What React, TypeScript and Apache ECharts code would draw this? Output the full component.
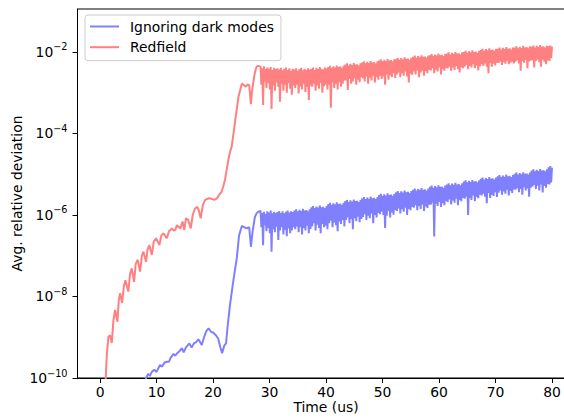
import React, { useEffect, useRef } from "react";
import * as echarts from "echarts";

const FONT = "DejaVu Sans";

// x-axis ticks (Time, us) and y-axis ticks (log scale)
const xTicks = [0, 10, 20, 30, 40, 50, 60, 70, 80];
const yTicks = [1e-10, 1e-8, 1e-6, 1e-4, 1e-2];

const seriesNames = ["Ignoring dark modes", "Redfield"];

// Values are stored as log10(avg. relative deviation).
// Redfield: smooth early part
const redEarlyTime = [0.85, 1.0, 1.2, 1.47, 1.75, 2.07, 2.35, 2.65, 3.07, 3.3, 3.54, 3.9, 4.2, 4.48, 5.0, 5.3, 5.6, 6.02, 6.3, 6.67, 7.08, 7.4, 7.67, 8.14, 8.4, 8.73, 9.15, 9.5, 9.91, 10.5, 10.85, 11.2, 11.8, 12.2, 12.7, 13.0, 13.3, 13.6, 14.2, 14.6, 14.9, 15.2, 15.6, 16.05, 16.4, 16.8, 17.2, 17.5, 17.8, 18.2, 18.6, 19.2, 19.7, 20.2, 20.7, 21.1, 21.5, 21.8, 22.1, 22.4, 22.7, 23.0, 23.3, 23.5, 24.0, 24.5, 25.1, 25.5, 25.8, 26.1, 26.4, 26.7, 26.9, 27.1, 27.4, 27.7, 28.0];
const redEarlyLog = [-10.5, -10.0, -9.4, -8.99, -8.95, -9.14, -8.6, -8.33, -8.62, -8.1, -7.92, -8.16, -7.75, -7.6, -7.88, -7.45, -7.31, -7.64, -7.2, -7.1, -7.39, -7.0, -6.9, -7.15, -6.85, -6.74, -6.98, -6.65, -6.57, -6.74, -6.5, -6.45, -6.57, -6.4, -6.33, -6.38, -6.37, -6.25, -6.33, -6.16, -6.37, -6.08, -6.12, -6.33, -6.0, -5.84, -5.8, -5.9, -6.08, -5.75, -5.63, -5.59, -5.6, -5.63, -5.59, -5.5, -5.43, -5.3, -5.14, -4.9, -4.65, -4.45, -4.32, -4.12, -3.6, -3.1, -2.77, -2.82, -2.85, -2.8, -2.81, -3.28, -2.95, -2.77, -2.5, -2.36, -2.34];

// Ignoring dark modes: smooth early part
const blueEarlyTime = [7.9, 8.14, 8.5, 8.8, 9.15, 9.56, 10.0, 10.6, 11.0, 11.4, 11.8, 12.2, 12.5, 13.0, 13.3, 13.6, 14.0, 14.5, 14.8, 15.2, 15.8, 16.2, 16.6, 17.0, 17.4, 18.0, 18.4, 18.8, 19.2, 19.6, 20.05, 20.5, 20.9, 21.3, 21.6, 22.0, 22.3, 22.6, 23.0, 23.6, 24.2, 24.6, 25.1, 25.5, 26.0, 26.4, 26.7, 27.0, 27.4, 27.7, 28.0];
const blueEarlyLog = [-10.3, -10.0, -9.9, -9.95, -9.85, -9.8, -9.85, -9.68, -9.72, -9.62, -9.6, -9.6, -9.5, -9.41, -9.45, -9.4, -9.35, -9.27, -9.37, -9.25, -9.15, -9.25, -9.15, -9.12, -9.05, -9.19, -9.0, -8.85, -8.78, -8.86, -8.89, -8.95, -9.03, -9.25, -9.39, -9.2, -9.15, -8.7, -8.2, -7.6, -7.06, -6.5, -6.27, -6.3, -6.33, -6.3, -6.78, -6.4, -6.05, -5.96, -5.92];

// Oscillating part: a peak every 0.3 us from 28.4 us, a trough 0.15 us after each peak
const bandStart = 28.4;
const bandStep = 0.3;
const redPeakLog = [
  -2.36, -2.40, -2.35, -2.42, -2.38, -2.41, -2.37, -2.44, -2.39, -2.42,
  -2.40, -2.43, -2.39, -2.45, -2.41, -2.38, -2.44, -2.40, -2.46, -2.41,
  -2.43, -2.40, -2.46, -2.42, -2.39, -2.45, -2.41, -2.44, -2.40, -2.43,
  -2.41, -2.38, -2.44, -2.39, -2.42, -2.37, -2.41, -2.43, -2.38, -2.40,
  -2.37, -2.34, -2.39, -2.35, -2.38, -2.33, -2.37, -2.35, -2.39, -2.34,
  -2.31, -2.28, -2.33, -2.29, -2.32, -2.27, -2.31, -2.30, -2.33, -2.28,
  -2.26, -2.23, -2.28, -2.24, -2.27, -2.22, -2.26, -2.25, -2.28, -2.23,
  -2.21, -2.18, -2.23, -2.19, -2.22, -2.17, -2.21, -2.20, -2.23, -2.18,
  -2.17, -2.14, -2.19, -2.15, -2.18, -2.13, -2.17, -2.16, -2.19, -2.14,
  -2.12, -2.09, -2.14, -2.10, -2.13, -2.08, -2.12, -2.11, -2.14, -2.09,
  -2.08, -2.05, -2.10, -2.06, -2.09, -2.04, -2.08, -2.07, -2.10, -2.05,
  -2.04, -2.01, -2.06, -2.02, -2.05, -2.00, -2.04, -2.03, -2.06, -2.01,
  -2.00, -1.97, -2.02, -1.98, -2.01, -1.96, -2.00, -1.99, -2.02, -1.97,
  -1.95, -1.92, -1.97, -1.93, -1.96, -1.91, -1.95, -1.94, -1.97, -1.92,
  -1.92, -1.89, -1.94, -1.90, -1.93, -1.88, -1.92, -1.91, -1.94, -1.89,
  -1.89, -1.86, -1.91, -1.87, -1.90, -1.85, -1.89, -1.88, -1.91, -1.86,
  -1.87, -1.84, -1.89, -1.85, -1.88, -1.83, -1.87, -1.86, -1.89, -1.85,
  -1.86, -1.84, -1.87,
];
const redTroughLog = [
  -2.80, -3.30, -2.72, -2.88, -2.76, -2.92, -3.40, -2.82, -2.95, -2.74,
  -2.85, -3.22, -2.78, -2.95, -2.80, -3.00, -2.76, -2.90, -3.05, -2.82,
  -2.88, -2.80, -3.02, -2.84, -2.92, -2.78, -2.98, -2.86, -3.18, -2.82,
  -2.85, -2.78, -2.95, -2.82, -2.90, -2.76, -3.00, -2.84, -2.80, -2.92,
  -2.80, -3.37, -2.75, -2.88, -2.78, -2.92, -2.74, -2.85, -2.78, -2.70,
  -2.70, -2.93, -2.66, -2.78, -2.72, -2.64, -2.80, -2.68, -2.74, -2.62,
  -2.65, -2.72, -2.60, -2.78, -2.63, -2.70, -2.58, -2.75, -2.62, -2.68,
  -2.58, -2.66, -2.60, -2.80, -2.55, -2.68, -2.57, -2.62, -2.52, -2.64,
  -2.55, -2.50, -2.62, -2.52, -2.58, -2.48, -2.60, -2.75, -2.53, -2.56,
  -2.48, -2.55, -2.45, -2.62, -2.50, -2.46, -2.58, -2.47, -2.52, -2.44,
  -2.45, -2.40, -2.52, -2.43, -2.48, -2.38, -2.55, -2.42, -2.46, -2.40,
  -2.40, -2.36, -2.46, -2.38, -2.44, -2.34, -2.42, -2.50, -2.37, -2.40,
  -2.36, -2.32, -2.42, -2.34, -2.38, -2.30, -2.40, -2.33, -2.45, -2.35,
  -2.30, -2.34, -2.28, -2.36, -2.52, -2.27, -2.36, -2.29, -2.33, -2.26,
  -2.27, -2.23, -2.32, -2.25, -2.29, -2.22, -2.30, -2.26, -2.24, -2.28,
  -2.24, -2.20, -2.28, -2.46, -2.22, -2.26, -2.19, -2.40, -2.23, -2.21,
  -2.20, -2.38, -2.22, -2.18, -2.25, -2.36, -2.19, -2.24, -2.30, -2.21,
  -2.22, -2.15,
];
const bluePeakLog = [
  -5.90, -5.95, -5.92, -5.97, -5.91, -5.94, -5.89, -5.96, -5.92, -5.95,
  -5.93, -5.90, -5.95, -5.91, -5.96, -5.92, -5.89, -5.94, -5.91, -5.93,
  -5.89, -5.86, -5.91, -5.87, -5.90, -5.85, -5.89, -5.88, -5.91, -5.86,
  -5.81, -5.78, -5.83, -5.79, -5.82, -5.77, -5.81, -5.80, -5.83, -5.78,
  -5.73, -5.70, -5.75, -5.71, -5.74, -5.69, -5.73, -5.72, -5.75, -5.70,
  -5.66, -5.63, -5.68, -5.64, -5.67, -5.62, -5.66, -5.65, -5.68, -5.63,
  -5.59, -5.56, -5.61, -5.57, -5.60, -5.55, -5.59, -5.58, -5.61, -5.56,
  -5.51, -5.48, -5.53, -5.49, -5.52, -5.47, -5.51, -5.50, -5.53, -5.48,
  -5.44, -5.41, -5.46, -5.42, -5.45, -5.40, -5.44, -5.43, -5.46, -5.41,
  -5.38, -5.35, -5.40, -5.36, -5.39, -5.34, -5.38, -5.37, -5.40, -5.35,
  -5.31, -5.28, -5.33, -5.29, -5.32, -5.27, -5.31, -5.30, -5.33, -5.28,
  -5.25, -5.22, -5.27, -5.23, -5.26, -5.21, -5.25, -5.24, -5.27, -5.22,
  -5.18, -5.15, -5.20, -5.16, -5.19, -5.14, -5.18, -5.17, -5.20, -5.15,
  -5.11, -5.08, -5.13, -5.09, -5.12, -5.07, -5.11, -5.10, -5.13, -5.08,
  -5.05, -5.02, -5.07, -5.03, -5.06, -5.01, -5.05, -5.04, -5.07, -5.02,
  -4.99, -4.96, -5.01, -4.97, -5.00, -4.95, -4.99, -4.98, -5.01, -4.96,
  -4.91, -4.88, -4.93, -4.89, -4.92, -4.87, -4.91, -4.90, -4.93, -4.88,
  -4.83, -4.80, -4.84,
];
const blueTroughLog = [
  -6.30, -6.74, -6.25, -6.40, -6.32, -6.45, -6.90, -6.35, -6.42, -6.28,
  -6.61, -6.38, -6.30, -6.48, -6.36, -6.52, -6.33, -6.45, -6.38, -6.30,
  -6.35, -6.28, -6.42, -6.30, -6.48, -6.32, -6.38, -6.26, -6.45, -6.34,
  -6.28, -6.20, -6.38, -6.24, -6.32, -6.45, -6.22, -6.30, -6.26, -6.35,
  -6.20, -6.14, -6.30, -6.18, -6.25, -6.40, -6.16, -6.22, -6.12, -6.28,
  -6.12, -6.06, -6.20, -6.10, -6.35, -6.08, -6.15, -6.04, -6.18, -6.10,
  -6.05, -5.98, -6.12, -6.02, -6.08, -5.96, -6.20, -6.00, -6.06, -5.95,
  -5.98, -5.92, -6.00, -6.32, -6.02, -5.90, -6.06, -5.94, -5.99, -5.88,
  -5.90, -5.84, -5.96, -5.86, -5.92, -5.82, -6.00, -5.85, -5.88, -5.80,
  -5.82, -5.76, -5.88, -5.78, -5.85, -5.74, -5.90, -5.79, -5.83, -5.75,
  -5.75, -5.70, -6.53, -5.72, -5.78, -5.68, -5.80, -5.71, -5.76, -5.66,
  -5.68, -5.62, -5.74, -5.64, -5.70, -5.60, -5.76, -5.63, -5.66, -5.58,
  -5.60, -5.55, -6.00, -5.58, -5.63, -5.52, -5.66, -5.56, -5.59, -5.50,
  -5.52, -5.48, -5.55, -5.71, -5.46, -5.58, -5.50, -5.53, -5.44, -5.56,
  -5.45, -5.40, -5.50, -5.42, -5.48, -5.38, -5.52, -5.41, -5.46, -5.37,
  -5.38, -5.34, -5.44, -5.36, -5.50, -5.32, -5.40, -5.35, -5.55, -5.33,
  -5.30, -5.26, -5.36, -5.28, -5.40, -5.25, -5.45, -5.29, -5.33, -5.24,
  -5.25, -5.20,
];

function buildSeries(earlyT: number[], earlyLog: number[], peaks: number[], troughs: number[]) {
  const pts: [number, number][] = [];
  earlyT.forEach((t, i) => pts.push([t, Math.pow(10, earlyLog[i])]));
  peaks.forEach((e, i) => {
    const t = bandStart + i * bandStep;
    pts.push([Math.round(t * 100) / 100, Math.pow(10, e)]);
    if (i < troughs.length) {
      pts.push([Math.round((t + bandStep / 2) * 100) / 100, Math.pow(10, troughs[i])]);
    }
  });
  return pts;
}

export default function App() {
  const ref = useRef<HTMLDivElement>(null);
  useEffect(() => {
    if (!ref.current) return;
    const chart = echarts.init(ref.current, undefined, { renderer: "svg" });
    const blue = buildSeries(blueEarlyTime, blueEarlyLog, bluePeakLog, blueTroughLog);
    const red = buildSeries(redEarlyTime, redEarlyLog, redPeakLog, redTroughLog);
    const txt = { fontFamily: FONT, fontSize: 13.9, color: "#000" };
    chart.setOption({
      animation: false,
      backgroundColor: "#ffffff",
      grid: {
        left: 77.5,
        top: 9,
        right: -10.6,
        bottom: 41,
        outerBoundsMode: "none",
        containLabel: false,
        show: true,
        borderColor: "#000",
        borderWidth: 1,
        backgroundColor: "transparent",
      },
      legend: {
        orient: "vertical",
        left: 85,
        top: 15,
        padding: [3.5, 7, 5.5, 5],
        icon: "rect",
        itemWidth: 29,
        itemHeight: 2,
        itemGap: 4.7,
        backgroundColor: "rgba(255,255,255,0.8)",
        borderColor: "#cccccc",
        borderWidth: 1,
        borderRadius: 3,
        textStyle: { ...txt, lineHeight: 16, padding: [0, 0, 0, 6] },
        data: seriesNames,
      },
      xAxis: {
        type: "value",
        min: -4,
        max: 84,
        name: "Time (us)",
        nameLocation: "middle",
        nameGap: 23,
        nameMoveOverlap: false,
        nameTextStyle: { ...txt, lineHeight: 12 },
        axisLine: { onZero: false, lineStyle: { color: "#000", width: 1 } },
        axisTick: { show: true, length: 5, customValues: xTicks, lineStyle: { color: "#000", width: 1 } },
        axisLabel: { ...txt, lineHeight: 12, margin: 8, customValues: xTicks },
        splitLine: { show: false },
      },
      yAxis: {
        type: "log",
        logBase: 10,
        min: 1e-10,
        max: 0.1135,
        name: "Avg. relative deviation",
        nameLocation: "middle",
        nameGap: 54,
        nameMoveOverlap: false,
        nameTextStyle: txt,
        axisLine: { onZero: false, lineStyle: { color: "#000", width: 1 } },
        axisTick: { show: true, length: 5, customValues: yTicks, lineStyle: { color: "#000", width: 1 } },
        axisLabel: {
          margin: 10,
          customValues: yTicks,
          formatter: (v: number) => {
            const e = Math.round(Math.log10(v));
            return "{b|10}{s|\u2212" + Math.abs(e) + "}";
          },
          rich: {
            b: { fontFamily: FONT, fontSize: 13.9, color: "#000", lineHeight: 20 },
            s: { fontFamily: FONT, fontSize: 9.7, color: "#000", lineHeight: 11, verticalAlign: "top" },
          },
        },
        splitLine: { show: false },
      },
      series: [
        {
          type: "line",
          name: seriesNames[0],
          data: blue,
          symbol: "none",
          showSymbol: false,
          clip: true,
          lineStyle: { color: "#8080ff", width: 2 },
          itemStyle: { color: "#8080ff" },
        },
        {
          type: "line",
          name: seriesNames[1],
          data: red,
          symbol: "none",
          showSymbol: false,
          clip: true,
          lineStyle: { color: "#ff8080", width: 2 },
          itemStyle: { color: "#ff8080" },
        },
      ],
    });
    return () => chart.dispose();
  }, []);
  return (
    <div
      ref={ref}
      style={{ position: "absolute", left: 0, top: 0, width: 564, height: 419 }}
    />
  );
}
